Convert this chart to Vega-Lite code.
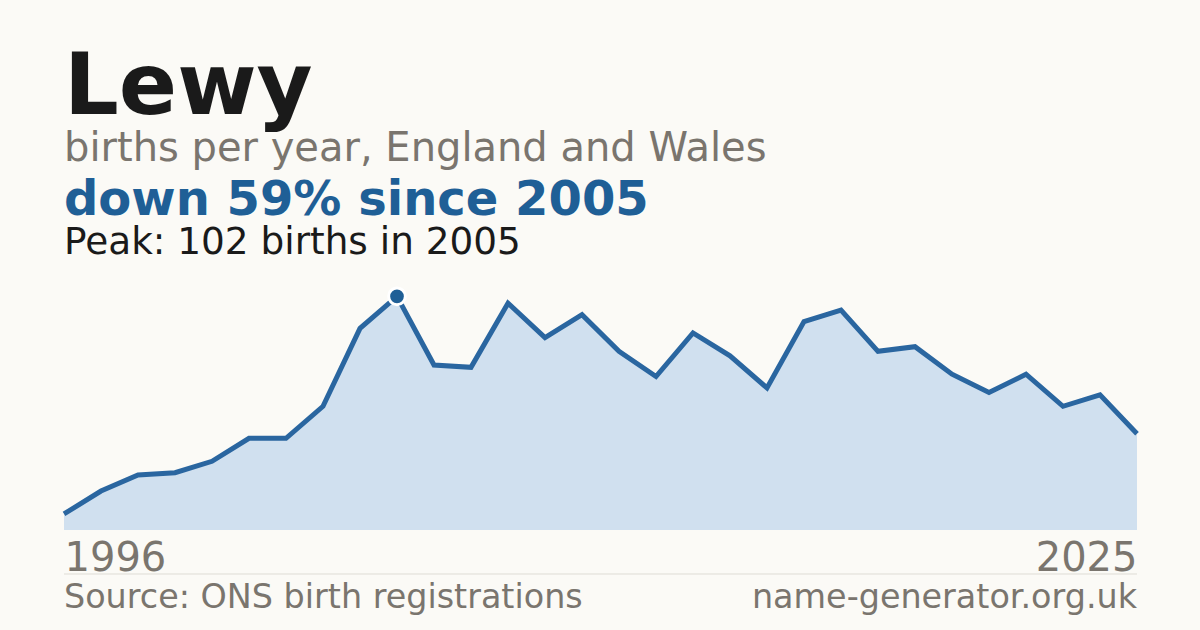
{
  "$schema": "https://vega.github.io/schema/vega-lite/v6.json",
  "autosize": "none",
  "width": 1073,
  "height": 252,
  "padding": {"left": 64, "top": 278, "right": 63, "bottom": 100},
  "background": "#fbfaf6",
  "title": {
    "text": "Lewy",
    "subtitle": "births per year, England and Wales",
    "anchor": "start",
    "frame": "group",
    "font": "DejaVu Sans",
    "fontSize": 86,
    "fontWeight": "bold",
    "color": "#1a1a1a",
    "subtitleFont": "DejaVu Sans",
    "subtitleFontSize": 40,
    "subtitleColor": "#7a756e",
    "subtitlePadding": -3,
    "offset": 7
  },
  "datasets": {
    "births": [
      {"year": 1996, "births": 7},
      {"year": 1997, "births": 17},
      {"year": 1998, "births": 24},
      {"year": 1999, "births": 25},
      {"year": 2000, "births": 30},
      {"year": 2001, "births": 40},
      {"year": 2002, "births": 40},
      {"year": 2003, "births": 54},
      {"year": 2004, "births": 88},
      {"year": 2005, "births": 102},
      {"year": 2006, "births": 72},
      {"year": 2007, "births": 71},
      {"year": 2008, "births": 99},
      {"year": 2009, "births": 84},
      {"year": 2010, "births": 94},
      {"year": 2011, "births": 78},
      {"year": 2012, "births": 67},
      {"year": 2013, "births": 86},
      {"year": 2014, "births": 76},
      {"year": 2015, "births": 62},
      {"year": 2016, "births": 91},
      {"year": 2017, "births": 96},
      {"year": 2018, "births": 78},
      {"year": 2019, "births": 80},
      {"year": 2020, "births": 68},
      {"year": 2021, "births": 60},
      {"year": 2022, "births": 68},
      {"year": 2023, "births": 54},
      {"year": 2024, "births": 59},
      {"year": 2025, "births": 42}
    ],
    "headline": [{"label": "down 59% since 2005"}],
    "peak": [{"label": "Peak: 102 births in 2005"}],
    "source": [{"label": "Source: ONS birth registrations"}],
    "site": [{"label": "name-generator.org.uk"}],
    "footer": [{"from": 1996, "to": 2025}]
  },
  "data": {"name": "births"},
  "layer": [
    {
      "mark": {"type": "area", "color": "#d0e0ef"},
      "encoding": {
        "x": {
          "field": "year",
          "type": "quantitative",
          "scale": {"domain": [1996, 2025], "nice": false, "zero": false},
          "axis": {
            "values": [1996, 2025],
            "format": "d",
            "title": null,
            "grid": false,
            "domain": false,
            "ticks": false,
            "labelFlush": true,
            "labelFont": "DejaVu Sans",
            "labelFontSize": 40,
            "labelColor": "#7a756e",
            "labelPadding": 8
          }
        },
        "y": {
          "field": "births",
          "type": "quantitative",
          "scale": {"domain": [0, 110], "nice": false},
          "axis": null
        }
      }
    },
    {
      "mark": {"type": "line", "color": "#2a66a0", "strokeWidth": 5},
      "encoding": {
        "x": {"field": "year", "type": "quantitative"},
        "y": {"field": "births", "type": "quantitative"}
      }
    },
    {
      "transform": [{"filter": "datum.year == 2005"}],
      "mark": {"type": "point", "shape": "circle", "filled": true, "size": 280, "color": "#1f5f96", "stroke": "#ffffff", "strokeWidth": 3, "opacity": 1},
      "encoding": {
        "x": {"field": "year", "type": "quantitative"},
        "y": {"field": "births", "type": "quantitative"}
      }
    },
    {
      "data": {"name": "headline"},
      "mark": {"type": "text", "align": "left", "baseline": "alphabetic", "font": "DejaVu Sans", "fontSize": 48, "fontWeight": "bold", "color": "#1f5f96"},
      "encoding": {
        "x": {"datum": 1996},
        "y": {"datum": 137.5},
        "text": {"field": "label"}
      }
    },
    {
      "data": {"name": "peak"},
      "mark": {"type": "text", "align": "left", "baseline": "alphabetic", "font": "DejaVu Sans", "fontSize": 37.4, "color": "#1a1a1a"},
      "encoding": {
        "x": {"datum": 1996},
        "y": {"datum": 120.5},
        "text": {"field": "label"}
      }
    },
    {
      "data": {"name": "footer"},
      "mark": {"type": "rule", "color": "#dedcd5", "strokeWidth": 1},
      "encoding": {
        "x": {"field": "from", "type": "quantitative"},
        "x2": {"field": "to"},
        "y": {"datum": -19.2}
      }
    },
    {
      "data": {"name": "source"},
      "mark": {"type": "text", "align": "left", "baseline": "alphabetic", "font": "DejaVu Sans", "fontSize": 33.4, "color": "#7a756e"},
      "encoding": {
        "x": {"datum": 1996},
        "y": {"datum": -34},
        "text": {"field": "label"}
      }
    },
    {
      "data": {"name": "site"},
      "mark": {"type": "text", "align": "right", "baseline": "alphabetic", "font": "DejaVu Sans", "fontSize": 33.4, "color": "#7a756e"},
      "encoding": {
        "x": {"datum": 2025},
        "y": {"datum": -34},
        "text": {"field": "label"}
      }
    }
  ],
  "config": {
    "view": {"stroke": null}
  }
}
